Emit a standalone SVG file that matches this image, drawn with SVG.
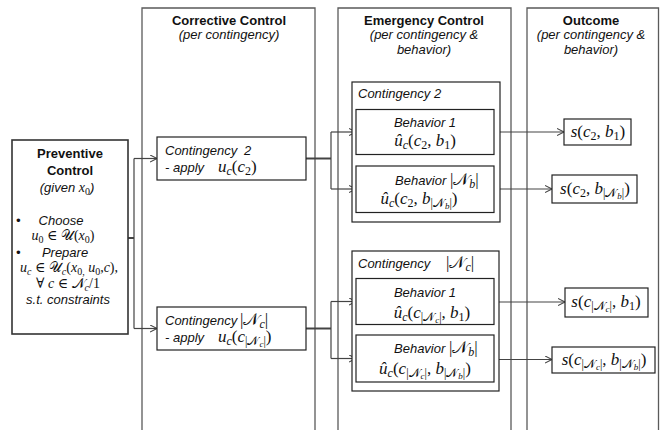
<svg xmlns="http://www.w3.org/2000/svg" width="660" height="430" viewBox="0 0 660 430">
<defs>
<style>
.col{fill:none;stroke:#5a5a5a;stroke-width:1.3}
.box{fill:#fff;stroke:#222;stroke-width:1.2}
.pbox{fill:#fff;stroke:#333;stroke-width:1.6}
.h{font-family:"Liberation Sans",Arial,sans-serif;font-size:13px;font-weight:bold;fill:#111}
.t{font-family:"Liberation Sans",Arial,sans-serif;font-size:13px;font-style:italic;fill:#111}
.m{font-family:"Liberation Serif","DejaVu Serif",serif;font-size:17px;font-style:italic;fill:#111}
.m2{font-size:14px}
.n{font-style:normal}
.sb{font-size:12px}
.sp{font-size:10px}
.ss{font-size:9px}
.c{fill:none;stroke:#444;stroke-width:1.2}
.stub{fill:none;stroke:#444;stroke-width:2}
.a{fill:none;stroke:#444;stroke-width:1.2;marker-end:url(#arr)}
</style>
<marker id="arr" markerUnits="userSpaceOnUse" markerWidth="9" markerHeight="9" refX="7" refY="4" orient="auto">
<path d="M0,0.5 L7,4 L0,7.5" fill="none" stroke="#444" stroke-width="1.1"/>
</marker>
</defs>

<g id="columns">
<path class="col" d="M142,435 V8 H315 V435"/>
<path class="col" d="M338,435 V8 H511 V435"/>
<path class="col" d="M527,435 V8 H658.5 V435"/>
<text class="h" x="229" y="25" text-anchor="middle">Corrective Control</text>
<text class="t" x="229" y="39" text-anchor="middle">(per contingency)</text>
<text class="h" x="424" y="25" text-anchor="middle">Emergency Control</text>
<text class="t" x="424" y="39" text-anchor="middle">(per contingency &amp;</text>
<text class="t" x="424" y="54" text-anchor="middle">behavior)</text>
<text class="h" x="591" y="25" text-anchor="middle">Outcome</text>
<text class="t" x="591" y="39" text-anchor="middle">(per contingency &amp;</text>
<text class="t" x="591" y="54" text-anchor="middle">behavior)</text>
</g>

<g id="connectors">
<path class="stub" d="M128,238 H134"/>
<path class="c" d="M134,158.5 V328.5"/>
<path class="a" d="M134,158.5 H157"/>
<path class="a" d="M134,328.5 H157"/>
<path class="stub" d="M306,158.5 H331"/>
<path class="c" d="M331,132 V189"/>
<path class="a" d="M331,132 H356"/>
<path class="a" d="M331,189 H356"/>
<path class="stub" d="M306,328.5 H331"/>
<path class="c" d="M331,301.5 V358.5"/>
<path class="a" d="M331,301.5 H356"/>
<path class="a" d="M331,358.5 H356"/>
<path class="a" d="M494,132 H564"/>
<path class="a" d="M494,189 H552"/>
<path class="a" d="M494,302 H565"/>
<path class="a" d="M494,359.5 H552"/>
</g>

<g id="preventive">
<rect class="pbox" x="12" y="140" width="116" height="194"/>
<text class="h" x="70" y="158" text-anchor="middle">Preventive</text>
<text class="h" x="70" y="175" text-anchor="middle">Control</text>
<text x="67" y="192" text-anchor="middle"><tspan class="t">(given </tspan><tspan class="m m2">x<tspan class="sp n" dy="2.5">0</tspan></tspan><tspan class="t" dy="-2.5">)</tspan></text>
<text class="t" x="16" y="225">•</text>
<text class="t" x="61" y="225" text-anchor="middle">Choose</text>
<text class="m m2" x="63" y="240" text-anchor="middle">u<tspan class="sp n" dy="2.5">0</tspan><tspan class="n" dy="-2.5"> ∈ &#x1D4B0;(</tspan>x<tspan class="sp n" dy="2.5">0</tspan><tspan class="n" dy="-2.5">)</tspan></text>
<text class="t" x="16" y="257">•</text>
<text class="t" x="65" y="257" text-anchor="middle">Prepare</text>
<text class="m m2" x="69" y="272" text-anchor="middle">u<tspan class="sp" dy="2.5">c</tspan><tspan class="n" dy="-2.5"> ∈ &#x1D4B0;</tspan><tspan class="sp" dy="2.5">c</tspan><tspan class="n" dy="-2.5">(</tspan>x<tspan class="sp n" dy="2.5">0,</tspan><tspan dy="-2.5"> u</tspan><tspan class="sp n" dy="2.5">0</tspan><tspan class="n" dy="-2.5">,</tspan>c<tspan class="n">),</tspan></text>
<text class="m m2" x="68" y="288" text-anchor="middle"><tspan class="n">∀ </tspan>c<tspan class="n"> ∈ &#x1D4A9;</tspan><tspan class="sp" dy="2.5">c</tspan><tspan class="n" dy="-2.5">/1</tspan></text>
<text class="t" x="68" y="304" text-anchor="middle">s.t. constraints</text>
</g>

<g id="corr-c2">
<rect class="box" x="157" y="137" width="149" height="43"/>
<text class="t" x="165" y="155">Contingency<tspan x="244">2</tspan></text>
<text class="t" x="165" y="172">- apply</text>
<text class="m" x="218" y="172">u<tspan class="sb" dy="3">c</tspan><tspan class="n" dy="-3">(</tspan>c<tspan class="sb n" dy="3">2</tspan><tspan class="n" dy="-3">)</tspan></text>
</g>

<g id="corr-cn">
<rect class="box" x="157" y="307" width="149" height="43"/>
<text class="t" x="165" y="325">Contingency</text>
<text class="m" x="240" y="325"><tspan class="n">|&#x1D4A9;</tspan><tspan class="sb" dy="3">c</tspan><tspan class="n" dy="-3">|</tspan></text>
<text class="t" x="165" y="342">- apply</text>
<text class="m" x="218" y="342">u<tspan class="sb" dy="3">c</tspan><tspan class="n" dy="-3">(</tspan>c<tspan class="sb n" dy="3">|&#x1D4A9;</tspan><tspan class="ss" dy="2">c</tspan><tspan class="sb n" dy="-2">|</tspan><tspan class="n" dy="-3">)</tspan></text>
</g>

<g id="emer-c2">
<rect class="box" x="352" y="82" width="148" height="140"/>
<text class="t" x="358" y="98">Contingency 2</text>
</g>
<g id="emer-c2-b1">
<rect class="box" x="356" y="109.5" width="138" height="45"/>
<text class="t" x="425" y="127" text-anchor="middle">Behavior 1</text>
<text class="m" x="425" y="146" text-anchor="middle">û<tspan class="sb" dy="3">c</tspan><tspan class="n" dy="-3">(</tspan>c<tspan class="sb n" dy="3">2</tspan><tspan class="n" dy="-3">, </tspan>b<tspan class="sb n" dy="3">1</tspan><tspan class="n" dy="-3">)</tspan></text>
</g>
<g id="emer-c2-bn">
<rect class="box" x="356" y="166" width="138" height="46.5"/>
<text x="395" y="185"><tspan class="t">Behavior </tspan><tspan class="m"><tspan class="n">|&#x1D4A9;</tspan><tspan class="sb" dy="3">b</tspan><tspan class="n" dy="-3">|</tspan></tspan></text>
<text class="m" x="419" y="204" text-anchor="middle">û<tspan class="sb" dy="3">c</tspan><tspan class="n" dy="-3">(</tspan>c<tspan class="sb n" dy="3">2</tspan><tspan class="n" dy="-3">, </tspan>b<tspan class="sb n" dy="3">|&#x1D4A9;</tspan><tspan class="ss" dy="2">b</tspan><tspan class="sb n" dy="-2">|</tspan><tspan class="n" dy="-3">)</tspan></text>
</g>

<g id="emer-cn">
<rect class="box" x="352" y="251" width="147" height="140"/>
<text class="t" x="358" y="268">Contingency</text>
<text class="m" x="446" y="268"><tspan class="n">|&#x1D4A9;</tspan><tspan class="sb" dy="3">c</tspan><tspan class="n" dy="-3">|</tspan></text>
</g>
<g id="emer-cn-b1">
<rect class="box" x="356" y="278.5" width="138" height="46"/>
<text class="t" x="425" y="297" text-anchor="middle">Behavior 1</text>
<text class="m" x="432" y="318" text-anchor="middle">û<tspan class="sb" dy="3">c</tspan><tspan class="n" dy="-3">(</tspan>c<tspan class="sb n" dy="3">|&#x1D4A9;</tspan><tspan class="ss" dy="2">c</tspan><tspan class="sb n" dy="-2">|</tspan><tspan class="n" dy="-3">, </tspan>b<tspan class="sb n" dy="3">1</tspan><tspan class="n" dy="-3">)</tspan></text>
</g>
<g id="emer-cn-bn">
<rect class="box" x="356" y="335" width="138" height="47"/>
<text x="394" y="353"><tspan class="t">Behavior </tspan><tspan class="m"><tspan class="n">|&#x1D4A9;</tspan><tspan class="sb" dy="3">b</tspan><tspan class="n" dy="-3">|</tspan></tspan></text>
<text class="m" x="425" y="374" text-anchor="middle">û<tspan class="sb" dy="3">c</tspan><tspan class="n" dy="-3">(</tspan>c<tspan class="sb n" dy="3">|&#x1D4A9;</tspan><tspan class="ss" dy="2">c</tspan><tspan class="sb n" dy="-2">|</tspan><tspan class="n" dy="-3">, </tspan>b<tspan class="sb n" dy="3">|&#x1D4A9;</tspan><tspan class="ss" dy="2">b</tspan><tspan class="sb n" dy="-2">|</tspan><tspan class="n" dy="-3">)</tspan></text>
</g>

<g id="out-c2-b1">
<rect class="box" x="564" y="119" width="67" height="26"/>
<text class="m" x="598" y="137" text-anchor="middle">s<tspan class="n">(</tspan>c<tspan class="sb n" dy="3">2</tspan><tspan class="n" dy="-3">, </tspan>b<tspan class="sb n" dy="3">1</tspan><tspan class="n" dy="-3">)</tspan></text>
</g>
<g id="out-c2-bn">
<rect class="box" x="552" y="175" width="85" height="28"/>
<text class="m" x="595" y="194" text-anchor="middle">s<tspan class="n">(</tspan>c<tspan class="sb n" dy="3">2</tspan><tspan class="n" dy="-3">, </tspan>b<tspan class="sb n" dy="3">|&#x1D4A9;</tspan><tspan class="ss" dy="2">b</tspan><tspan class="sb n" dy="-2">|</tspan><tspan class="n" dy="-3">)</tspan></text>
</g>
<g id="out-cn-b1">
<rect class="box" x="565" y="288" width="83" height="29"/>
<text class="m" x="606" y="307" text-anchor="middle">s<tspan class="n">(</tspan>c<tspan class="sb n" dy="3">|&#x1D4A9;</tspan><tspan class="ss" dy="2">c</tspan><tspan class="sb n" dy="-2">|</tspan><tspan class="n" dy="-3">, </tspan>b<tspan class="sb n" dy="3">1</tspan><tspan class="n" dy="-3">)</tspan></text>
</g>
<g id="out-cn-bn">
<rect class="box" x="552" y="347" width="103" height="26"/>
<text class="m" x="604" y="365" text-anchor="middle">s<tspan class="n">(</tspan>c<tspan class="sb n" dy="3">|&#x1D4A9;</tspan><tspan class="ss" dy="2">c</tspan><tspan class="sb n" dy="-2">|</tspan><tspan class="n" dy="-3">, </tspan>b<tspan class="sb n" dy="3">|&#x1D4A9;</tspan><tspan class="ss" dy="2">b</tspan><tspan class="sb n" dy="-2">|</tspan><tspan class="n" dy="-3">)</tspan></text>
</g>
</svg>
